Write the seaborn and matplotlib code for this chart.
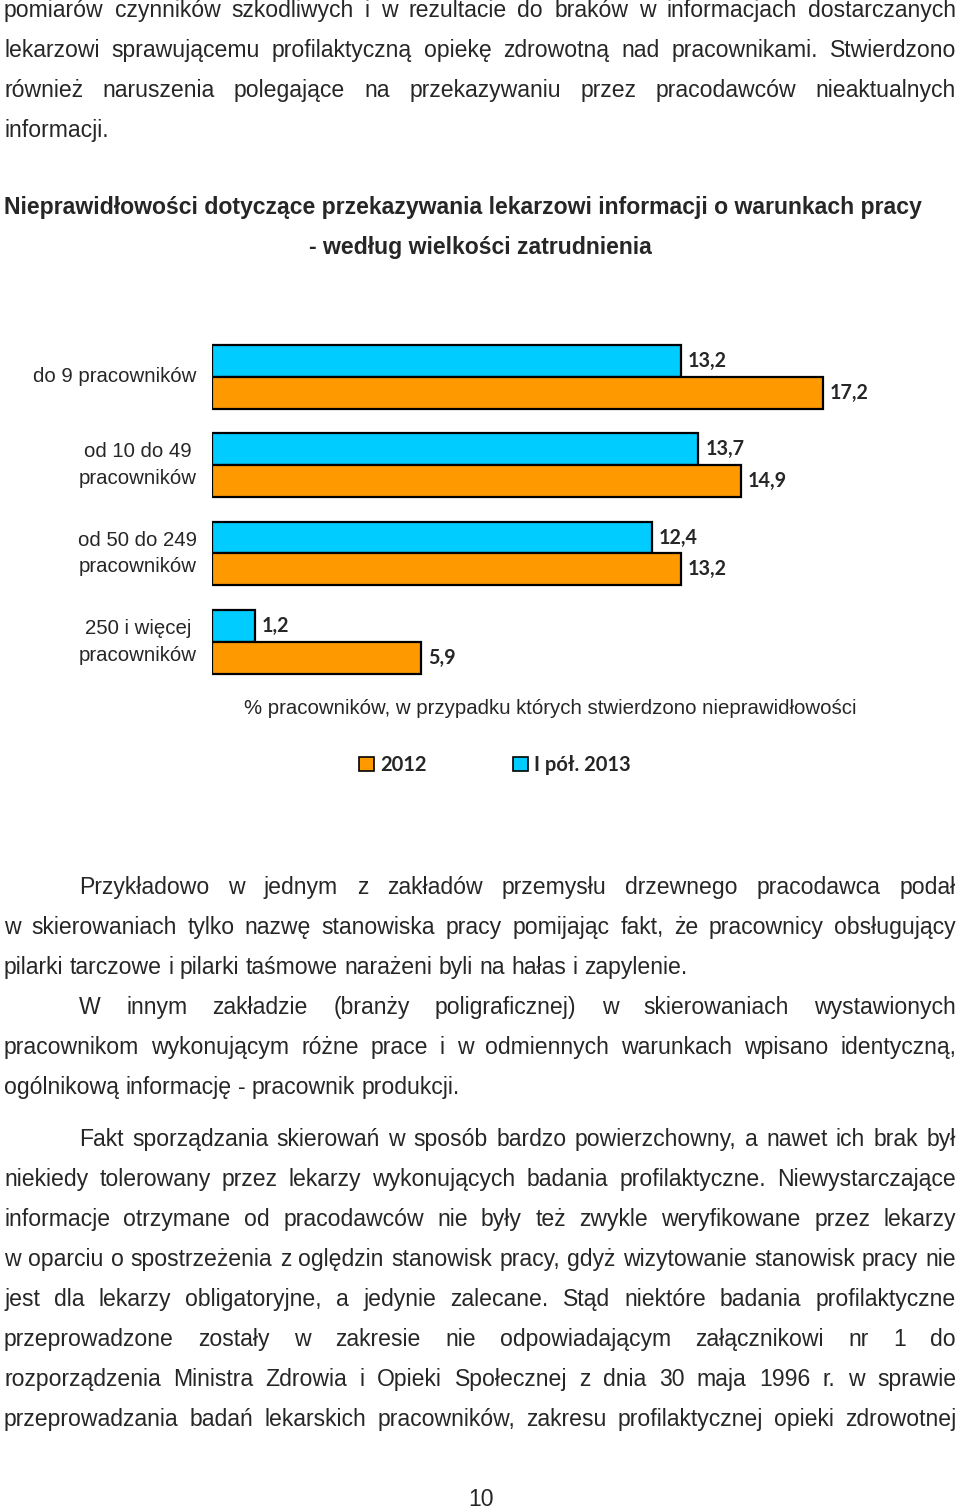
import numpy as np
import pandas as pd
import matplotlib
matplotlib.use("Agg")
import matplotlib.pyplot as plt
import seaborn as sns
from matplotlib.patches import Patch

W, H = 960, 1509

# chart data
categories = ["do 9 pracowników", "od 10 do 49\npracowników",
              "od 50 do 249\npracowników", "250 i więcej\npracowników"]
series_names = ["I pół. 2013", "2012"]
values_h1_2013 = [13.2, 13.7, 12.4, 1.2]
values_2012 = [17.2, 14.9, 13.2, 5.9]
series_colors = {"2012": "#FF9900", "I pół. 2013": "#00CCFF"}

title_lines = ["Nieprawidłowości dotyczące przekazywania lekarzowi informacji o warunkach pracy",
               "- według wielkości zatrudnienia"]
x_label = "% pracowników, w przypadku których stwierdzono nieprawidłowości"

# page text, one list per paragraph (first line, ..., last line)
para_top = ["pomiarów czynników szkodliwych i w rezultacie do braków w informacjach dostarczanych",
            "lekarzowi sprawującemu profilaktyczną opiekę zdrowotną nad pracownikami. Stwierdzono",
            "również naruszenia polegające na przekazywaniu przez pracodawców nieaktualnych",
            "informacji."]
para_1 = ["Przykładowo w jednym z zakładów przemysłu drzewnego pracodawca podał",
          "w skierowaniach tylko nazwę stanowiska pracy pomijając fakt, że pracownicy obsługujący",
          "pilarki tarczowe i pilarki taśmowe narażeni byli na hałas i zapylenie."]
para_2 = ["W innym zakładzie (branży poligraficznej) w skierowaniach wystawionych",
          "pracownikom wykonującym różne prace i w odmiennych warunkach wpisano identyczną,",
          "ogólnikową informację - pracownik produkcji."]
para_3 = ["Fakt sporządzania skierowań w sposób bardzo powierzchowny, a nawet ich brak był",
          "niekiedy tolerowany przez lekarzy wykonujących badania profilaktyczne. Niewystarczające",
          "informacje otrzymane od pracodawców nie były też zwykle weryfikowane przez lekarzy",
          "w oparciu o spostrzeżenia z oględzin stanowisk pracy, gdyż wizytowanie stanowisk pracy nie",
          "jest dla lekarzy obligatoryjne, a jedynie zalecane. Stąd niektóre badania profilaktyczne",
          "przeprowadzone zostały w zakresie nie odpowiadającym załącznikowi nr 1 do",
          "rozporządzenia Ministra Zdrowia i Opieki Społecznej z dnia 30 maja 1996 r. w sprawie",
          "przeprowadzania badań lekarskich pracowników, zakresu profilaktycznej opieki zdrowotnej"]
page_number = "10"

sns.set_style("white")
plt.rcParams['font.family'] = ['Liberation Sans', 'DejaVu Sans']

fig = plt.figure(figsize=(W / 100, H / 100), dpi=100)
renderer = fig.canvas.get_renderer()

BODY_SIZE = 16.6


def put_line(text, y, x0=4, x1=956, justify=True, size=BODY_SIZE):
    # place a line word by word so it can be justified like the page
    words = text.split(" ")
    items = [fig.text(0, 1 - y / H, w, fontsize=size, va="baseline", ha="left") for w in words]
    widths = [t.get_window_extent(renderer).width for t in items]
    if justify and len(items) > 1:
        gap = (x1 - x0 - sum(widths)) / (len(items) - 1)
    else:
        gap = 0.278 * size * 100 / 72
    x = x0
    for t, w in zip(items, widths):
        t.set_x(x / W)
        x += w + gap


def put_paragraph(lines, y0, indent=True, step=40, ends=True):
    for i, line in enumerate(lines):
        x0 = 79 if (indent and i == 0) else 4
        last = ends and i == len(lines) - 1
        put_line(line, y0 + i * step, x0=x0, justify=not last)


put_paragraph(para_top, 17, indent=False)
put_paragraph(para_1, 894)
put_paragraph(para_2, 1014)
put_paragraph(para_3, 1146, ends=False)  # continues on the next page
fig.text(481 / W, 1 - 1506 / H, page_number, fontsize=BODY_SIZE, ha="center", va="baseline")

# title, sized to the width it takes on the page
t1 = fig.text(4 / W, 1 - 214 / H, title_lines[0], fontsize=15, fontweight="bold", ha="left", va="baseline")
tw = t1.get_window_extent(renderer).width
title_size = 15 * 924 / tw
t1.set_fontsize(title_size)
fig.text(480 / W, 1 - 254 / H, title_lines[1], fontsize=title_size, fontweight="bold",
         ha="center", va="baseline")

# chart
df = pd.DataFrame({
    "kategoria": categories * 2,
    "seria": [series_names[0]] * len(categories) + [series_names[1]] * len(categories),
    "wartosc": values_h1_2013 + values_2012,
})

ax = fig.add_axes([212 / W, 1 - 686 / H, (889 - 212) / W, (686 - 332.6) / H])
sns.barplot(data=df, y="kategoria", x="wartosc", hue="seria", hue_order=series_names,
            palette=series_colors, orient="h", width=0.72, edgecolor="black",
            linewidth=1.6, ax=ax, legend=False, saturation=1)
ax.set_xlim(0, 19.07)
for c in ax.containers:
    ax.bar_label(c, labels=[f"{b.get_width():.1f}".replace(".", ",") for b in c],
                 padding=5, fontsize=14.2, fontweight="bold", family=["Lato", "DejaVu Sans"])

sns.despine(ax=ax, left=True, bottom=True)
ax.set_xticks([])
ax.set_ylabel("")
ax.set_xlabel(x_label, fontsize=14.65, labelpad=9)
ax.tick_params(axis="y", length=0, pad=11, labelsize=14.7)
for lab in ax.get_yticklabels():
    lab.set_multialignment("center")
    lab.set_linespacing(1.5)
    lab.set_verticalalignment("center")

handles = [Patch(facecolor=series_colors[n], edgecolor="black", linewidth=1.2) for n in ["2012", "I pół. 2013"]]
fig.legend(handles, ["2012", "I pół. 2013"], loc="center", bbox_to_anchor=(495 / W, 1 - 765 / H),
           ncol=2, frameon=False, handlelength=0.75, handleheight=0.75, handletextpad=0.3,
           columnspacing=4.3, prop={"family": ["Lato", "DejaVu Sans"], "weight": "bold", "size": 14.5})

fig.savefig("out.png", dpi=100)
